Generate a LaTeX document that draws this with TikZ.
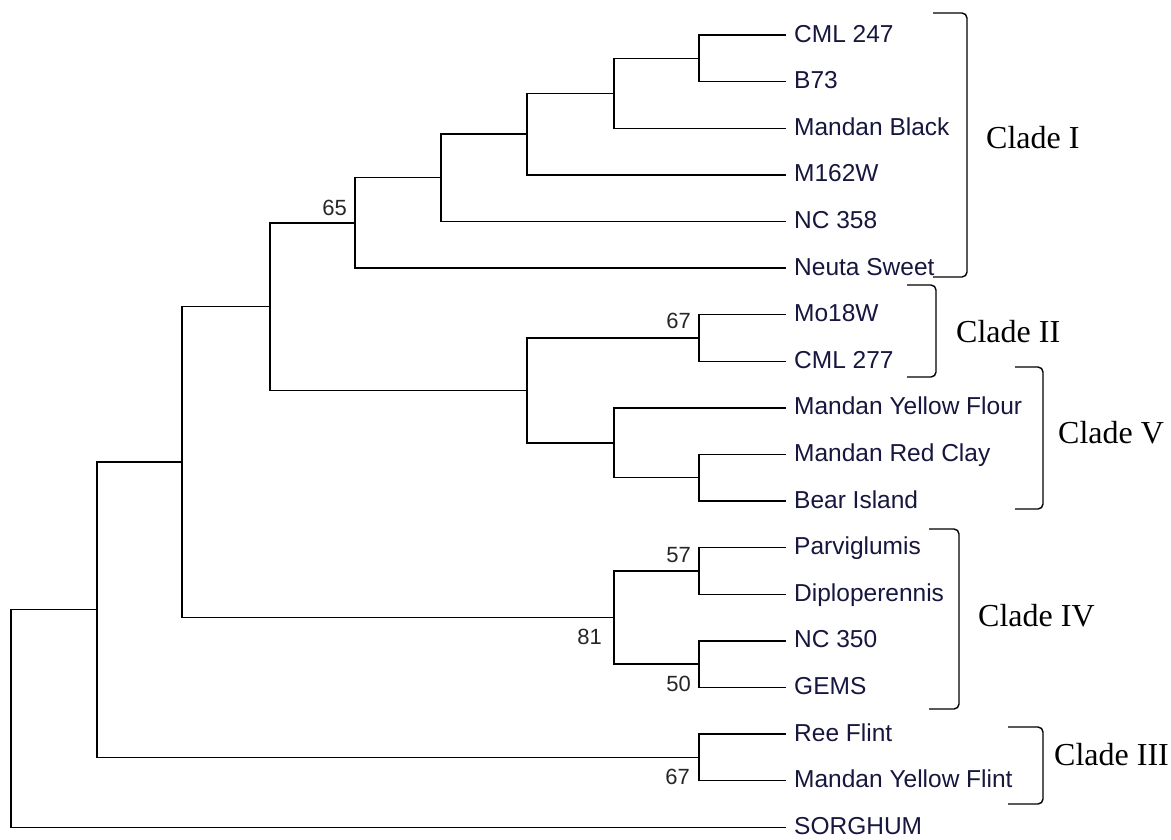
\documentclass[tikz,border=0pt]{standalone}
\usepackage{fontspec}
\newfontfamily\taxonfont{Liberation Sans}
\newfontfamily\cladefont{Liberation Serif}
\definecolor{taxoncol}{RGB}{22,22,62}

\begin{document}
\begin{tikzpicture}[x=1pt,y=-1pt,
    branch/.style={line width=1.4pt},
    leaf/.style={anchor=west, inner xsep=8pt, inner ysep=0pt, text height=14pt, text depth=0pt,
        font=\taxonfont\fontsize{24.5}{28}\selectfont, text=taxoncol},
    boot/.style={inner sep=0pt, font=\taxonfont\fontsize{22}{26}\selectfont, text=black!85},
    clade/.style={anchor=base west, inner sep=0pt, font=\cladefont\fontsize{32}{38}\selectfont},
    bracket/.style={line width=1.4pt, rounded corners=5pt}]
    \useasboundingbox (0,0) rectangle (1171,839);

    % taxa
    \foreach \lbl [count=\i from 0] in {CML 247, B73, Mandan Black, M162W, NC 358, Neuta Sweet,
        Mo18W, CML 277, Mandan Yellow Flour, Mandan Red Clay, Bear Island, Parviglumis,
        Diploperennis, NC 350, GEMS, Ree Flint, Mandan Yellow Flint, SORGHUM}
        \node[leaf] (t\i) at (786,{35+46.6*\i}) {\lbl};

    % inner nodes
    \coordinate (cA) at (699,58.3);
    \coordinate (cB) at (614,93.3);
    \coordinate (cC) at (527,134.1);
    \coordinate (cD) at (441,177.7);
    \coordinate (cE) at (355,222.8);
    \coordinate (cF) at (699,337.9);
    \coordinate (cG) at (699,477.7);
    \coordinate (cH) at (614,442.8);
    \coordinate (cI) at (527,390.3);
    \coordinate (cJ) at (270,306.6);
    \coordinate (cK) at (699,570.9);
    \coordinate (cL) at (699,664.1);
    \coordinate (cM) at (614,617.5);
    \coordinate (cN) at (182,462.0);
    \coordinate (cO) at (699,757.3);
    \coordinate (cP) at (97,609.7);
    \coordinate (root) at (11,718.0);

    \draw[branch] (cA) |- (t0.west)  (cA) |- (t1.west);
    \draw[branch] (cB) |- (cA)  (cB) |- (t2.west);
    \draw[branch] (cC) |- (cB)  (cC) |- (t3.west);
    \draw[branch] (cD) |- (cC)  (cD) |- (t4.west);
    \draw[branch] (cE) |- (cD)  (cE) |- (t5.west);
    \draw[branch] (cF) |- (t6.west)  (cF) |- (t7.west);
    \draw[branch] (cG) |- (t9.west)  (cG) |- (t10.west);
    \draw[branch] (cH) |- (t8.west)  (cH) |- (cG);
    \draw[branch] (cI) |- (cF)  (cI) |- (cH);
    \draw[branch] (cJ) |- (cE)  (cJ) |- (cI);
    \draw[branch] (cK) |- (t11.west)  (cK) |- (t12.west);
    \draw[branch] (cL) |- (t13.west)  (cL) |- (t14.west);
    \draw[branch] (cM) |- (cK)  (cM) |- (cL);
    \draw[branch] (cN) |- (cJ)  (cN) |- (cM);
    \draw[branch] (cO) |- (t15.west)  (cO) |- (t16.west);
    \draw[branch] (cP) |- (cN)  (cP) |- (cO);
    \draw[branch] (root) |- (cP)  (root) |- (t17.west);

    % bootstrap values
    \node[boot, anchor=south east] (b65) at (347,216) {65};
    \node[boot, anchor=north east] (b67) at (691,313) {67};
    \node[boot, anchor=north east] (b57) at (691,547) {57};
    \node[boot, anchor=north east] (b50) at (691,676) {50};
    \node[boot, anchor=north east] (b81) at (602,629) {81};
    \node[boot, anchor=north east] (b67f) at (690,769) {67};

    % clades
    \draw[bracket] (933,13) -- (967,13) -- (967,277) -- (933,277);
    \node[clade] (clI) at (986,148) {Clade I};
    \draw[bracket] (907,285) -- (936,285) -- (936,377) -- (907,377);
    \node[clade] (clII) at (956,342) {Clade II};
    \draw[bracket] (1015,367) -- (1043,367) -- (1043,509) -- (1015,509);
    \node[clade] (clV) at (1058,443) {Clade V};
    \draw[bracket] (929,529) -- (959,529) -- (959,709) -- (929,709);
    \node[clade] (clIV) at (978,626) {Clade IV};
    \draw[bracket] (1008,727) -- (1043,727) -- (1043,804) -- (1008,804);
    \node[clade] (clIII) at (1054,765) {Clade III};
\end{tikzpicture}
\end{document}
